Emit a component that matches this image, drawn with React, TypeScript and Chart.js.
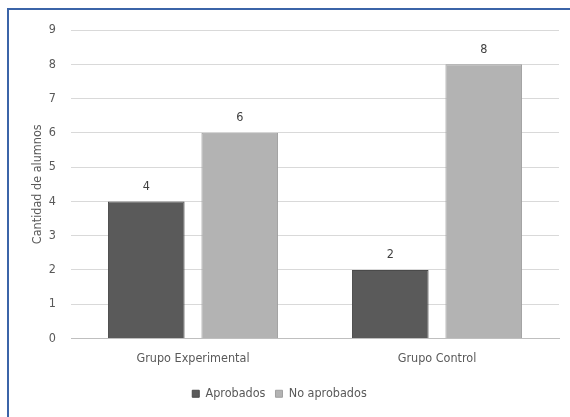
import React, { useEffect, useRef } from "react";
import { Chart, registerables } from "chart.js";

Chart.register(...registerables);

const categories = ["Grupo Experimental", "Grupo Control"];
const aprobados = [4, 2];
const noAprobados = [6, 8];
const seriesNames = ["Aprobados", "No aprobados"];
const yTicks = [0, 1, 2, 3, 4, 5, 6, 7, 8, 9];
const yTitle = "Cantidad de alumnos";

const FONT = "'Liberation Sans Narrow', 'DejaVu Sans Condensed', 'Liberation Sans', sans-serif";

const valueLabels = {
  id: "valueLabels",
  afterDatasetsDraw(chart: any) {
    const ctx = chart.ctx;
    ctx.save();
    ctx.font = `12.5px ${FONT}`;
    ctx.fillStyle = "#404040";
    ctx.textAlign = "center";
    ctx.textBaseline = "middle";
    chart.data.datasets.forEach((ds: any, i: number) => {
      const meta = chart.getDatasetMeta(i);
      meta.data.forEach((bar: any, j: number) => {
        ctx.fillText(String(ds.data[j]), bar.x, bar.y - 15);
      });
    });
    ctx.restore();
  },
};

export default function App() {
  const ref = useRef<HTMLCanvasElement>(null);
  useEffect(() => {
    if (!ref.current) return;
    const chart = new Chart(ref.current, {
      type: "bar",
      data: {
        labels: categories,
        datasets: [
          {
            label: seriesNames[0],
            data: aprobados,
            backgroundColor: "#5a5a5a",
            borderColor: "#4a4a4a",
            borderWidth: 1,
          },
          {
            label: seriesNames[1],
            data: noAprobados,
            backgroundColor: "#b3b3b3",
            borderColor: "#a0a0a0",
            borderWidth: 1,
          },
        ],
      },
      options: {
        animation: false,
        responsive: false,
        maintainAspectRatio: false,
        layout: { padding: { top: 30, right: 11, left: 0, bottom: 7 } },
        datasets: { bar: { categoryPercentage: 0.766, barPercentage: 0.82 } },
        plugins: {
          tooltip: { enabled: false },
          legend: {
            position: "bottom",
            labels: {
              boxWidth: 7,
              boxHeight: 7,
              padding: 10,
              color: "#595959",
              font: { family: FONT, size: 12.5 },
            },
          },
        },
        scales: {
          x: {
            grid: { display: false, drawTicks: false },
            border: { display: true, color: "#bfbfbf", width: 1 },
            ticks: { color: "#595959", padding: 13, font: { family: FONT, size: 12.5 } },
            afterFit: (s: any) => {
              s.height = 39;
            },
          },
          y: {
            min: 0,
            max: 9,
            afterBuildTicks: (s: any) => {
              s.ticks = yTicks.map((v) => ({ value: v }));
            },
            grid: { color: "#d9d9d9", drawTicks: false, lineWidth: 1 },
            border: { display: false },
            ticks: { color: "#595959", padding: 15, font: { family: FONT, size: 12.5 } },
            title: {
              display: true,
              text: yTitle,
              color: "#595959",
              font: { family: FONT, size: 12.5 },
              padding: { top: 30, bottom: 0 },
            },
            afterFit: (s: any) => {
              s.width = 71;
            },
          },
        },
      },
      plugins: [valueLabels],
    });
    return () => chart.destroy();
  }, []);
  return (
    <div style={{ position: "fixed", left: 0, top: 0, width: 570, height: 417, background: "#fff" }}>
      <canvas ref={ref} width={570} height={417} style={{ position: "absolute", left: 0, top: 0 }} />
      <div
        style={{
          position: "absolute",
          left: 7,
          top: 8,
          width: 570,
          height: 417,
          borderLeft: "2px solid #3b64a8",
          borderTop: "2px solid #3b64a8",
          pointerEvents: "none",
        }}
      />
    </div>
  );
}
